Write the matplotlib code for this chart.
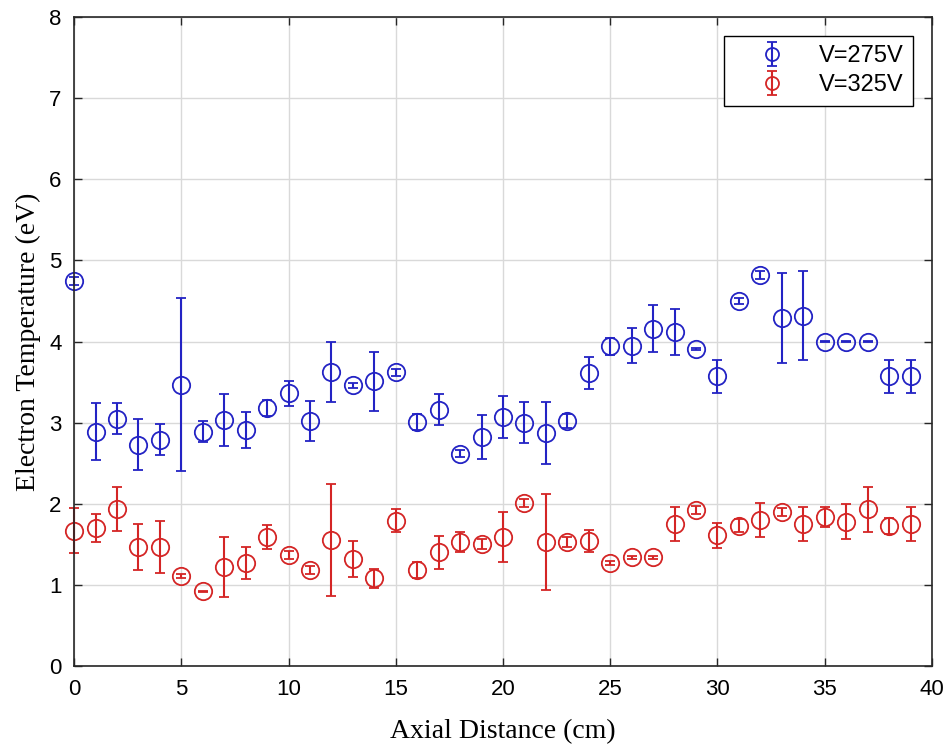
import numpy as np
import matplotlib.pyplot as plt

# Axial positions (cm)
x = np.arange(40)

# V=275V electron temperature (eV) and error
te_275 = [4.75, 2.89, 3.05, 2.73, 2.79, 3.47, 2.89, 3.03, 2.91, 3.18,
          3.36, 3.02, 3.63, 3.46, 3.51, 3.62, 3.01, 3.16, 2.62, 2.82,
          3.07, 3.00, 2.87, 3.02, 3.61, 3.94, 3.95, 4.16, 4.12, 3.91,
          3.57, 4.50, 4.82, 4.29, 4.32, 4.00, 4.00, 4.00, 3.57, 3.57]
err_275 = [0.05, 0.35, 0.19, 0.31, 0.19, 1.07, 0.13, 0.32, 0.22, 0.10,
           0.15, 0.25, 0.37, 0.03, 0.36, 0.04, 0.10, 0.19, 0.04, 0.27,
           0.26, 0.25, 0.38, 0.09, 0.20, 0.10, 0.22, 0.29, 0.28, 0.01,
           0.20, 0.04, 0.05, 0.55, 0.55, 0.01, 0.01, 0.01, 0.20, 0.20]

# V=325V electron temperature (eV) and error
te_325 = [1.67, 1.70, 1.94, 1.47, 1.47, 1.11, 0.92, 1.22, 1.27, 1.59,
          1.37, 1.18, 1.55, 1.32, 1.08, 1.79, 1.18, 1.40, 1.53, 1.50,
          1.59, 2.01, 1.53, 1.53, 1.54, 1.27, 1.34, 1.34, 1.75, 1.92,
          1.61, 1.73, 1.80, 1.90, 1.75, 1.84, 1.78, 1.93, 1.73, 1.75]
err_325 = [0.28, 0.17, 0.27, 0.28, 0.32, 0.03, 0.01, 0.37, 0.20, 0.15,
           0.05, 0.05, 0.69, 0.22, 0.12, 0.14, 0.10, 0.20, 0.12, 0.06,
           0.31, 0.05, 0.59, 0.06, 0.14, 0.02, 0.02, 0.02, 0.21, 0.05,
           0.15, 0.08, 0.21, 0.05, 0.21, 0.12, 0.22, 0.28, 0.10, 0.21]

blue = '#2323c4'
red = '#d42525'

fig = plt.figure(figsize=(9.5, 7.45), dpi=100)
ax = fig.add_axes([0.078, 0.106, 0.903, 0.871])

for y, e, c, lab in [(te_275, err_275, blue, 'V=275V'), (te_325, err_325, red, 'V=325V')]:
    cont = ax.errorbar(x, y, yerr=e, fmt='o', mfc='none', mec=c, ecolor=c,
                       color=c, markersize=12.5, mew=1.3, elinewidth=1.5, capsize=3.6,
                       capthick=1.5, label=lab)
    for art in cont.get_children():
        art.set_clip_on(False)

ax.set_xlim(0, 40)
ax.set_ylim(0, 8)
ax.set_xticks(np.arange(0, 41, 5))
ax.set_yticks(np.arange(0, 9, 1))
ax.grid(True, color='#d9d9d9', linewidth=1.0)
ax.set_axisbelow(True)
ax.tick_params(direction='in', length=6, width=1, top=True, right=True,
               labelsize=16, colors='#262626', labelcolor='black', pad=9)
for lab in ax.get_xticklabels() + ax.get_yticklabels():
    lab.set_family('Liberation Sans')
for s in ax.spines.values():
    s.set_color('#262626')
    s.set_linewidth(1.2)

ax.set_xlabel('Axial Distance (cm)', fontsize=20, family='Liberation Serif', labelpad=14)
ax.set_ylabel('Electron Temperature (eV)', fontsize=20, family='Liberation Serif', labelpad=6)

leg = ax.legend(loc='upper right', bbox_to_anchor=(0.978, 0.971), fancybox=False,
                edgecolor='black', framealpha=1, prop={'family': 'Liberation Sans', 'size': 17},
                markerfirst=True, handletextpad=0.4, borderpad=0.4, labelspacing=0.3,
                borderaxespad=0, handlelength=3.2, markerscale=0.75)
leg.get_frame().set_linewidth(1.0)

fig.savefig('out.png', dpi=100)
